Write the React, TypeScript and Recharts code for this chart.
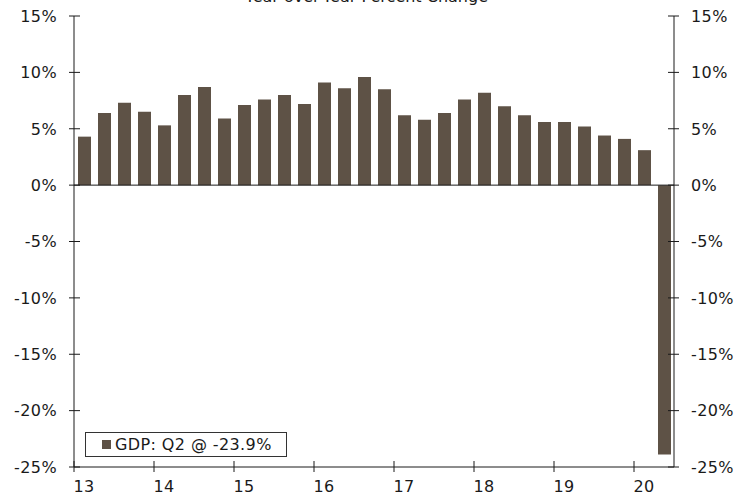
import { ComposedChart, Bar, Line, XAxis, YAxis, ReferenceLine } from 'recharts'

// quarterly GDP, year-over-year percent change
const quarters = [
  '13Q1', '13Q2', '13Q3', '13Q4',
  '14Q1', '14Q2', '14Q3', '14Q4',
  '15Q1', '15Q2', '15Q3', '15Q4',
  '16Q1', '16Q2', '16Q3', '16Q4',
  '17Q1', '17Q2', '17Q3', '17Q4',
  '18Q1', '18Q2', '18Q3', '18Q4',
  '19Q1', '19Q2', '19Q3', '19Q4',
  '20Q1', '20Q2',
]
const gdp = [
  4.3, 6.4, 7.3, 6.5,
  5.3, 8.0, 8.7, 5.9,
  7.1, 7.6, 8.0, 7.2,
  9.1, 8.6, 9.6, 8.5,
  6.2, 5.8, 6.4, 7.6,
  8.2, 7.0, 6.2, 5.6,
  5.6, 5.2, 4.4, 4.1,
  3.1, -23.9,
]
const yTicks = [-25, -20, -15, -10, -5, 0, 5, 10, 15]

const data = quarters.map((q, i) => ({ q, gdp: gdp[i] }))

const W = 747
const H = 495
const LEFT_W = 74
const RIGHT_W = 73
const X_H = 28
const BAND = (W - LEFT_W - RIGHT_W) / quarters.length
const FONT = '"DejaVu Sans", Verdana, sans-serif'
const INK = '#1a1a1a'
const BAR = '#5e5246'
const FS = 16
const LS = 0.4

const TICK = 5
const Y_MARGIN = 12
const X_MARGIN = 9

const XTick = (props: any) => {
  const { x, y, payload } = props
  const i = payload.index
  if (i % 4 !== 0) return <g />
  const axisY = y - TICK - X_MARGIN
  return (
    <g>
      <line x1={x - BAND / 2} x2={x - BAND / 2} y1={axisY - 6} y2={axisY + TICK} stroke={INK} />
      <text x={x} y={y} dy="0.71em" textAnchor="middle" fill={INK} fontSize={FS} fontFamily={FONT} letterSpacing={LS}>
        {payload.value.slice(0, 2)}
      </text>
    </g>
  )
}

const LeftTick = (props: any) => {
  const { x, y, payload } = props
  const axisX = x + TICK + Y_MARGIN
  return (
    <g>
      <line x1={axisX - TICK} x2={axisX + 6} y1={y} y2={y} stroke={INK} />
      <text x={x} y={y} dy="0.36em" textAnchor="end" fill={INK} fontSize={FS} fontFamily={FONT} letterSpacing={LS}>
        {payload.value}%
      </text>
    </g>
  )
}

const RightTick = (props: any) => {
  const { x, y, payload } = props
  const axisX = x - TICK - Y_MARGIN
  return (
    <g>
      <line x1={axisX - 6} x2={axisX + TICK} y1={y} y2={y} stroke={INK} />
      <text x={x} y={y} dy="0.36em" textAnchor="start" fill={INK} fontSize={FS} fontFamily={FONT} letterSpacing={LS}>
        {payload.value}%
      </text>
    </g>
  )
}

export default function App() {
  return (
    <div style={{ position: 'absolute', left: 0, top: 0, width: W, height: H, background: '#fff' }}>
      <ComposedChart width={W} height={H} data={data} margin={{ top: 16, right: 0, bottom: 0, left: 0 }}>
        <XAxis xAxisId="top" dataKey="q" orientation="top" height={0} tick={false} tickLine={false}
          axisLine={{ stroke: '#808080' }} />
        <XAxis dataKey="q" height={X_H} interval={0} tickLine={false} tickSize={TICK} tickMargin={X_MARGIN}
          axisLine={{ stroke: INK }} tick={<XTick />} />
        <YAxis yAxisId="left" width={LEFT_W} domain={[-25, 15]} ticks={yTicks} tickLine={false}
          tickSize={TICK} tickMargin={Y_MARGIN} axisLine={{ stroke: INK }} tick={<LeftTick />} />
        <YAxis yAxisId="right" orientation="right" width={RIGHT_W} domain={[-25, 15]} ticks={yTicks}
          tickLine={false} tickSize={TICK} tickMargin={Y_MARGIN} axisLine={{ stroke: INK }} tick={<RightTick />} />
        <ReferenceLine yAxisId="left" y={0} stroke={INK} />
        <Bar yAxisId="left" dataKey="gdp" fill={BAR} barSize={13} isAnimationActive={false} />
        {/* invisible series so the right axis gets its ticks */}
        <Line yAxisId="right" dataKey="gdp" stroke="none" dot={false} activeDot={false}
          legendType="none" isAnimationActive={false} />
      </ComposedChart>

      {/* title, clipped at the top edge like the source */}
      <div style={{
        position: 'absolute', left: 0, width: W - 14, top: -12, textAlign: 'center',
        fontFamily: FONT, fontSize: FS, color: INK, whiteSpace: 'nowrap', lineHeight: '18px',
      }}>
        Year-over-Year Percent Change
      </div>

      {/* legend */}
      <div style={{
        position: 'absolute', left: 85, top: 432, width: 200, height: 23, border: '1px solid #333',
        background: '#fff', fontFamily: FONT, fontSize: FS, color: INK, display: 'flex', alignItems: 'center',
        boxSizing: 'content-box', letterSpacing: LS, whiteSpace: 'nowrap',
      }}>
        <span style={{ display: 'inline-block', width: 9, height: 9, background: BAR, marginLeft: 16, marginRight: 4 }} />
        GDP: Q2 @ -23.9%
      </div>
    </div>
  )
}
